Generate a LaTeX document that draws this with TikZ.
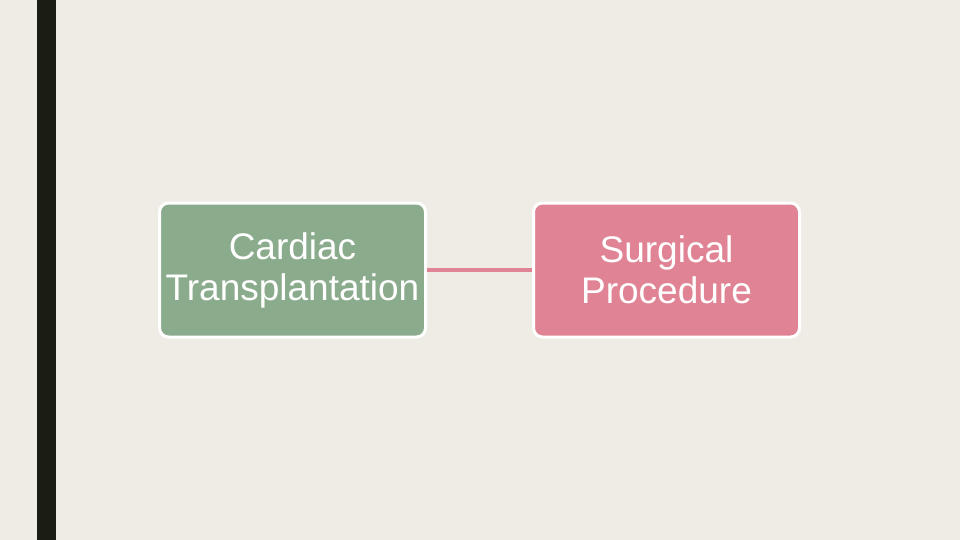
\documentclass[tikz,border=0pt]{standalone}
\usepackage{fontspec}
\setmainfont{Liberation Sans}
\usetikzlibrary{positioning}
\definecolor{paper}{HTML}{EEECE4}
\definecolor{bar}{HTML}{1B1D12}
\definecolor{sage}{HTML}{8BAB8D}
\definecolor{rose}{HTML}{E08495}

\begin{document}
\begin{tikzpicture}[x=1pt,y=-1pt,font=\fontsize{37}{41}\selectfont,box/.style={draw=white,line width=3pt,rounded corners=9pt,align=center,text=white,minimum width=266pt,minimum height=134pt,inner sep=0pt},link/.style={draw=rose,line width=4pt}]
\fill[paper] (0,0) rectangle (960,540);
\useasboundingbox (0,0) rectangle (960,540);
\fill[bar] (37,0) rectangle (56,540);
\node[box,fill=sage] (heart) at (292.5,270) {Cardiac\\Transplantation};
\node[box,fill=rose,right=105pt of heart] (surg) {Surgical\\Procedure};
\draw[link] (heart.east) -- (surg.west);
\end{tikzpicture}
\end{document}
